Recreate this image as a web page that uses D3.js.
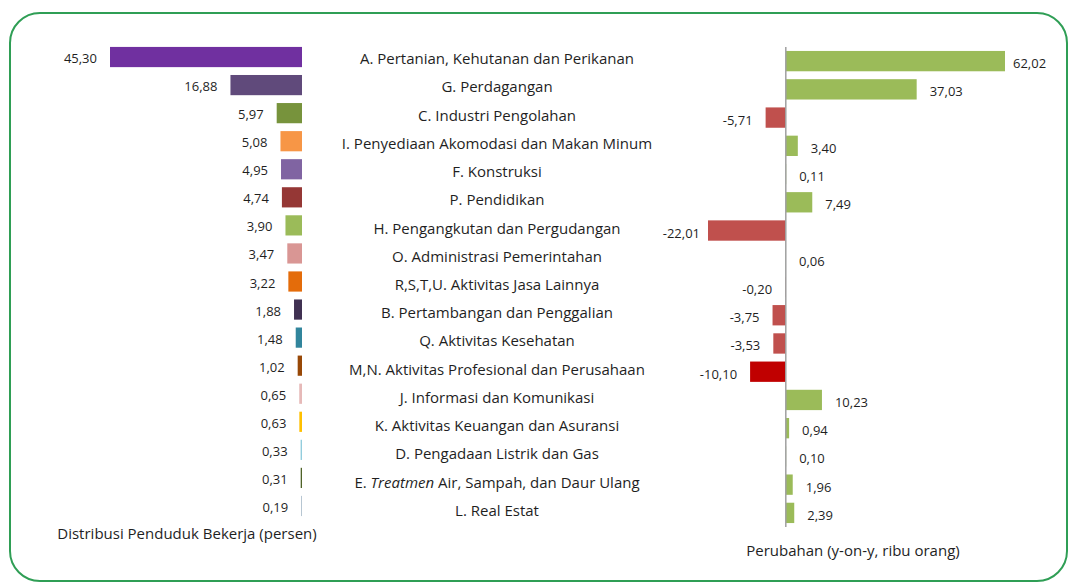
<!DOCTYPE html>
<html>
<head>
<meta charset="utf-8">
<script src="https://cdn.jsdelivr.net/npm/d3@7"></script>
<style>
  body { margin: 0; background: #fff; }
  svg text { font-family: "Open Sans", sans-serif; fill: #1f1f1f; }
</style>
</head>
<body>
<div class="sektor_viz"></div>
<script>
// sektor lapangan usaha
var categories = [
  "A. Pertanian, Kehutanan dan Perikanan",
  "G. Perdagangan",
  "C. Industri Pengolahan",
  "I. Penyediaan Akomodasi dan Makan Minum",
  "F. Konstruksi",
  "P. Pendidikan",
  "H. Pengangkutan dan Pergudangan",
  "O. Administrasi Pemerintahan",
  "R,S,T,U. Aktivitas Jasa Lainnya",
  "B. Pertambangan dan Penggalian",
  "Q. Aktivitas Kesehatan",
  "M,N. Aktivitas Profesional dan Perusahaan",
  "J. Informasi dan Komunikasi",
  "K. Aktivitas Keuangan dan Asuransi",
  "D. Pengadaan Listrik dan Gas",
  "E. Treatmen Air, Sampah, dan Daur Ulang",
  "L. Real Estat"
];
// distribusi penduduk bekerja (persen)
var distribusi = [45.30, 16.88, 5.97, 5.08, 4.95, 4.74, 3.90, 3.47, 3.22, 1.88, 1.48, 1.02, 0.65, 0.63, 0.33, 0.31, 0.19];
var distribusiColors = ["#7030a0", "#604a7b", "#77933c", "#f79646", "#8064a2", "#953735", "#9bbb59", "#d99694",
                        "#e46c0a", "#403152", "#31859c", "#984807", "#e6b9b8", "#ffc000", "#93cddd", "#4f6228", "#a6b9c8"];
// perubahan y-on-y (ribu orang)
var perubahan = [62.02, 37.03, -5.71, 3.40, 0.11, 7.49, -22.01, 0.06, -0.20, -3.75, -3.53, -10.10, 10.23, 0.94, 0.10, 1.96, 2.39];

var leftTitle = "Distribusi Penduduk Bekerja (persen)";
var rightTitle = "Perubahan (y-on-y, ribu orang)";

// 2 desimal, koma sebagai pemisah, tanda minus biasa
var fmt = function(v) { return d3.format(".2f")(v).replace(".", ",").replace("\u2212", "-"); };

var W = 1068, H = 583;
var svg = d3.select(".sektor_viz").append("svg")
  .attr("width", W)
  .attr("height", H);

// frame
svg.append("rect")
  .attr("x", 10).attr("y", 13)
  .attr("width", 1057).attr("height", 568)
  .attr("rx", 30).attr("ry", 30)
  .attr("fill", "none")
  .attr("stroke", "#2f9e55")
  .attr("stroke-width", 2);

var idx = d3.range(categories.length);

// ---- left: distribusi ----
var yL = d3.scaleBand().domain(idx).range([43, 520]).paddingInner(0.28).paddingOuter(0.14);
var xL = d3.scaleLinear().domain([0, d3.max(distribusi)]).range([302, 110]);

var gL = svg.append("g");
gL.selectAll("rect").data(distribusi).enter().append("rect")
  .attr("x", function(d) { return xL(d); })
  .attr("y", function(d, i) { return yL(i); })
  .attr("width", function(d) { return xL(0) - xL(d); })
  .attr("height", yL.bandwidth())
  .attr("fill", function(d, i) { return distribusiColors[i]; });

gL.selectAll("text").data(distribusi).enter().append("text")
  .attr("x", function(d) { return xL(d) - 13; })
  .attr("y", function(d, i) { return yL(i) + yL.bandwidth() / 2 + 1; })
  .attr("text-anchor", "end")
  .attr("dominant-baseline", "central")
  .style("font-size", "13px")
  .text(fmt);

svg.append("text")
  .attr("x", 187).attr("y", 533)
  .attr("text-anchor", "middle")
  .attr("dominant-baseline", "central")
  .style("font-size", "15px")
  .text(leftTitle);

// ---- middle: category labels ----
var yC = d3.scaleBand().domain(idx).range([44, 524]);
var labels = svg.append("g").selectAll("text").data(categories).enter().append("text")
  .attr("x", 497)
  .attr("y", function(d, i) { return yC(i) + yC.bandwidth() / 2; })
  .attr("text-anchor", "middle")
  .attr("dominant-baseline", "central")
  .style("font-size", "15px");

labels.each(function(d) {
  var t = d3.select(this);
  if (d.indexOf("Treatmen") >= 0) {
    var parts = d.split("Treatmen");
    t.append("tspan").text(parts[0]);
    t.append("tspan").style("font-style", "italic").text("Treatmen");
    t.append("tspan").text(parts[1]);
  } else {
    t.text(d);
  }
});

// ---- right: perubahan ----
var yR = d3.scaleBand().domain(idx).range([47, 527]).paddingInner(0.28).paddingOuter(0.14);
var xR = d3.scaleLinear().domain([d3.min(perubahan), d3.max(perubahan)]).range([708, 1005]);

var gR = svg.append("g");
gR.selectAll("rect").data(perubahan).enter().append("rect")
  .attr("x", function(d) { return Math.min(xR(d), xR(0)); })
  .attr("y", function(d, i) { return yR(i); })
  .attr("width", function(d) { return Math.abs(xR(d) - xR(0)); })
  .attr("height", yR.bandwidth())
  .attr("fill", function(d) { return d < -10 && d > -15 ? "#c00000" : (d < 0 ? "#c0504d" : "#9bbb59"); });

gR.append("line")
  .attr("x1", xR(0)).attr("x2", xR(0))
  .attr("y1", 47).attr("y2", 527)
  .attr("stroke", "#a0a0a0")
  .attr("stroke-width", 1.5);

// label di ujung batang; dua batang terpanjang labelnya lebih rapat
var extent = d3.extent(perubahan);
var gap = function(d) { return (d === extent[0] || d === extent[1]) ? 8 : 13; };

gR.selectAll("text").data(perubahan).enter().append("text")
  .attr("x", function(d) { return d < 0 ? Math.min(xR(d), xR(0)) - gap(d) : Math.max(xR(d), xR(0)) + gap(d); })
  .attr("y", function(d, i) { return yR(i) + yR.bandwidth() / 2 + 2; })
  .attr("text-anchor", function(d) { return d < 0 ? "end" : "start"; })
  .attr("dominant-baseline", "central")
  .style("font-size", "13px")
  .text(fmt);

svg.append("text")
  .attr("x", 853).attr("y", 550)
  .attr("text-anchor", "middle")
  .attr("dominant-baseline", "central")
  .style("font-size", "15px")
  .text(rightTitle);
</script>
</body>
</html>
